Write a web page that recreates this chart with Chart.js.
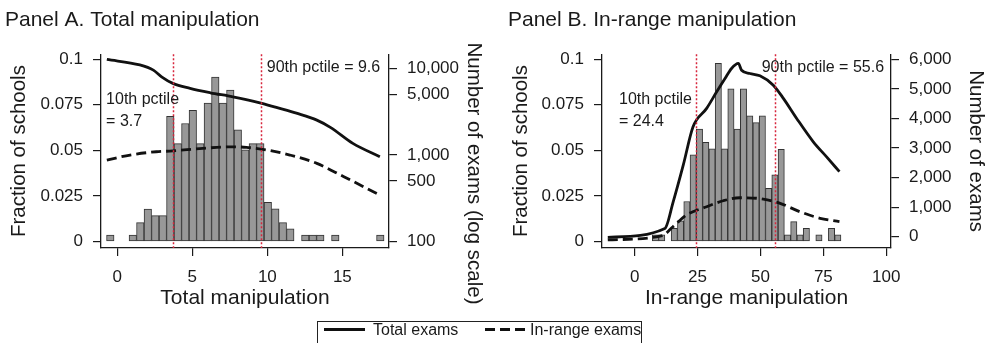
<!DOCTYPE html>
<html>
<head>
<meta charset="utf-8">
<script src="https://cdn.jsdelivr.net/npm/chart.js@4.4.0/dist/chart.umd.min.js"></script>
<style>
  html, body { margin: 0; padding: 0; background: #fff; }
  body { width: 986px; height: 343px; position: relative; overflow: hidden;
         font-family: "Liberation Sans", Arial, Helvetica, sans-serif; color: #1a1a1a; }
  #panelA { position: absolute; left: 0; top: 0; }
  #panelB { position: absolute; left: 500px; top: 0; }
  #legend { position: absolute; left: 317px; top: 321px; width: 323px; height: 30px;
            border: 1px solid #222; font-size: 16px; }
  #legend .item { position: absolute; top: -1px; line-height: 18px; white-space: nowrap; }
  #legend .sample { position: absolute; top: 6px; height: 2.6px; }
  #legend .solid { left: 6px; width: 41px; background: #111; }
  #legend .dashed { left: 167px; width: 42px;
                    background: repeating-linear-gradient(to right, #111 0 10px, transparent 10px 15px); }
</style>
</head>
<body>
<canvas id="panelA" width="493" height="322"></canvas>
<canvas id="panelB" width="486" height="322"></canvas>
<div id="legend">
  <span class="sample solid"></span><span class="item" style="left:55px">Total exams</span>
  <span class="sample dashed"></span><span class="item" style="left:212px">In-range exams</span>
</div>
<script>
const FONT = "'Liberation Sans', Arial, Helvetica, sans-serif";
const INK = "#1a1a1a";

// Panel A: histogram of total manipulation (bin centres, fraction of schools)
const binsA = [-0.47, 1.03, 1.53, 2.03, 2.53, 3.03, 3.53, 4.03, 4.53, 5.03, 5.53, 6.03, 6.53, 7.03,
  7.53, 8.03, 8.53, 9.03, 9.53, 10.03, 10.53, 11.03, 11.53, 12.53, 13.03, 13.53, 14.53, 17.53];
const fracA = [0.0035, 0.0035, 0.0103, 0.0177, 0.0142, 0.0142, 0.0686, 0.0537, 0.0647, 0.072,
  0.0537, 0.0759, 0.0902, 0.0759, 0.0831, 0.0613, 0.0503, 0.0537, 0.0537, 0.0215, 0.0179,
  0.0103, 0.0069, 0.0035, 0.0035, 0.0035, 0.0035, 0.0035];
// Panel A: number of exams (log scale)
const totalAx = [-0.7, 1.5, 2.4, 2.95, 3.7, 4.85, 6.2, 7.7, 9.5, 10.6, 12.0, 13.3, 14.2, 15.7, 17.5];
const totalAy = [12600, 10900, 9500, 7960, 6680, 5850, 5210, 4680, 3990, 3530, 3010, 2520, 2080, 1360, 953];
const inRangeAx = [-0.7, 0.85, 2.6, 3.5, 5.7, 7.5, 8.6, 10.0, 11.5, 13.3, 15.1, 17.5];
const inRangeAy = [873, 998, 1089, 1109, 1191, 1241, 1224, 1138, 998, 800, 561, 345];
const pctA = [3.7, 9.6];

// Panel B: histogram of in-range manipulation
const binsB = [8.25, 10.75, 15.75, 18.25, 20.75, 23.25, 25.75, 28.25, 30.75, 33.25, 35.75, 38.25,
  40.75, 43.25, 45.75, 48.25, 50.75, 53.25, 55.75, 58.25, 60.75, 63.25, 65.75, 68.25, 73.25, 78.25, 80.75];
const fracB = [0.0036, 0.0036, 0.0072, 0.0113, 0.0219, 0.0475, 0.0616, 0.0544, 0.0508, 0.0978,
  0.0508, 0.0837, 0.0616, 0.0837, 0.0689, 0.0652, 0.0689, 0.0292, 0.0365, 0.0506, 0.0036,
  0.0109, 0.0036, 0.0072, 0.0036, 0.0072, 0.0036];
// Panel B: number of exams (linear)
const totalBx = [-10.7, 12, 15.3, 19.3, 23.2, 28.6, 32.6, 35.9, 38.5, 41.2, 42.5, 45.8, 49.8,
  55.1, 59.1, 64.4, 71.0, 76.3, 81.4];
const totalBy = [-20, 280, 1180, 2420, 3720, 4340, 4900, 5350, 5690, 5860, 5630, 5520, 5440,
  5125, 4680, 4000, 3210, 2700, 2200];
const inRangeBx = [-10.7, 11, 15.2, 20.6, 28.6, 35.2, 41.8, 51.1, 57.8, 65.7, 73.7, 81.4];
const inRangeBy = [-110, 40, 338, 733, 1014, 1216, 1318, 1274, 1128, 845, 622, 507];
const pctB = [24.4, 55.6];

// tick labels
const fracTicks = [0, 0.025, 0.05, 0.075, 0.1];
const xTicksA = [0, 5, 10, 15];
const xTicksB = [0, 25, 50, 75, 100];
const examTicksA = [100, 500, 1000, 5000, 10000];
const examTicksB = [0, 1000, 2000, 3000, 4000, 5000, 6000];

function zipXY(xs, ys) {
  return xs.map((x, i) => ({ x, y: ys[i] }));
}
function fixTicks(values) {
  return scale => { scale.ticks = values.map(value => ({ value })); };
}
function fracLabel(v) { return String(Number(Number(v).toFixed(3))); }
function countLabel(v) { return Number(v).toLocaleString("en-US"); }

// red dotted percentile markers
const pctLines = {
  id: "pctLines",
  afterDatasetsDraw(chart, args, opts) {
    const { ctx, chartArea, scales } = chart;
    ctx.save();
    ctx.strokeStyle = "#d7263d";
    ctx.lineWidth = 1.5;
    ctx.setLineDash([2, 2]);
    (opts.values || []).forEach(v => {
      const px = Math.round(scales.x.getPixelForValue(v)) + 0.5;
      ctx.beginPath();
      ctx.moveTo(px, chartArea.top);
      ctx.lineTo(px, chartArea.bottom);
      ctx.stroke();
    });
    ctx.restore();
  }
};

// free text: percentile notes (data units) and the long side title (pixels)
const notes = {
  id: "notes",
  afterDraw(chart, args, opts) {
    const { ctx, scales } = chart;
    (opts.items || []).forEach(t => {
      ctx.save();
      ctx.font = `${t.size || 16}px ${FONT}`;
      ctx.fillStyle = INK;
      ctx.textAlign = t.align || "left";
      ctx.textBaseline = "middle";
      const px = t.pixel ? t.x : scales.x.getPixelForValue(t.x);
      const py = t.pixel ? t.y : scales.y.getPixelForValue(t.y);
      ctx.translate(px, py);
      if (t.rotate) ctx.rotate(t.rotate);
      ctx.fillText(t.text, 0, 0);
      ctx.restore();
    });
  }
};

function buildPanel(canvasId, cfg) {
  const tickFont = { family: FONT, size: 17 };
  const titleFont = { family: FONT, size: 21, weight: "normal", lineHeight: 1.2 };
  const sideFont = { family: FONT, size: 20.5, lineHeight: 1 };
  const grid = { display: true, drawOnChartArea: false, drawTicks: true, tickLength: 8,
                 color: INK, lineWidth: 1.2, offset: false };
  const border = { display: true, color: INK, width: 1.3 };

  return new Chart(document.getElementById(canvasId), {
    type: "bar",
    data: {
      datasets: [
        { type: "line", label: "Total exams", data: zipXY(cfg.totalX, cfg.totalY), yAxisID: "yR",
          borderColor: "#111", borderWidth: 2.8, pointRadius: 0, fill: false,
          cubicInterpolationMode: "monotone" },
        { type: "line", label: "In-range exams", data: zipXY(cfg.inRangeX, cfg.inRangeY), yAxisID: "yR",
          borderColor: "#111", borderWidth: 2.8, borderDash: [10, 5], pointRadius: 0, fill: false,
          cubicInterpolationMode: "monotone" },
        { type: "bar", label: "Fraction of schools", data: zipXY(cfg.bins, cfg.frac), yAxisID: "y",
          backgroundColor: "#989898", borderColor: "#333", borderWidth: 1, borderSkipped: false,
          barPercentage: 1, categoryPercentage: 1 }
      ]
    },
    options: {
      responsive: false,
      animation: false,
      events: [],
      layout: { padding: { left: cfg.padLeft, right: 0, top: 0, bottom: 0 } },
      plugins: {
        legend: { display: false },
        tooltip: { enabled: false },
        title: { display: true, text: cfg.title, align: "start", color: INK, font: titleFont,
                 padding: { top: 8, bottom: 21 } },
        pctLines: { values: cfg.pct },
        notes: { items: cfg.notes }
      },
      scales: {
        x: {
          type: "linear", min: cfg.xMin, max: cfg.xMax, offset: false,
          grid, border,
          afterBuildTicks: fixTicks(cfg.xTicks),
          afterFit: s => { s.height = 74; },
          ticks: { font: tickFont, color: INK, padding: 11, maxRotation: 0, callback: v => v },
          title: { display: true, text: cfg.xTitle, color: INK, font: titleFont, padding: { top: 0, bottom: 11 } }
        },
        y: {
          type: "linear", position: "left", min: -0.0036, max: 0.10275,
          grid, border,
          afterBuildTicks: fixTicks(fracTicks),
          afterFit: s => { s.width = cfg.leftWidth; },
          ticks: { font: tickFont, color: INK, padding: 10, callback: fracLabel },
          title: { display: true, text: "Fraction of schools", color: INK, font: sideFont,
                   padding: { top: cfg.leftTitlePad, bottom: 0 } }
        },
        yR: {
          type: cfg.rightType, position: "right", min: cfg.rMin, max: cfg.rMax,
          grid, border,
          afterBuildTicks: fixTicks(cfg.rTicks),
          afterFit: s => { s.width = cfg.rightWidth; },
          ticks: { font: tickFont, color: INK, padding: 10, callback: countLabel },
          title: { display: !!cfg.rTitle, text: cfg.rTitle || "", color: INK, font: sideFont,
                   padding: { top: cfg.rightTitlePad, bottom: 0 } }
        }
      }
    },
    plugins: [pctLines, notes]
  });
}

buildPanel("panelA", {
  title: "Panel A. Total manipulation",
  xTitle: "Total manipulation",
  bins: binsA, frac: fracA,
  totalX: totalAx, totalY: totalAy, inRangeX: inRangeAx, inRangeY: inRangeAy,
  pct: pctA,
  xMin: -1.09, xMax: 18.11, xTicks: xTicksA,
  rightType: "logarithmic", rMin: 84.6, rMax: 14500, rTicks: examTicksA,
  rTitle: null,
  padLeft: 5, leftWidth: 96, rightWidth: 104, leftTitlePad: 4.5, rightTitlePad: 9,
  notes: [
    { text: "10th pctile", x: -0.75, y: 0.0777 },
    { text: "= 3.7", x: -0.75, y: 0.0658 },
    { text: "90th pctile = 9.6", x: 9.96, y: 0.0953 },
    { text: "Number of exams (log scale)", pixel: true, x: 473.5, y: 173.5, rotate: Math.PI / 2,
      align: "center", size: 20.5 }
  ]
});

buildPanel("panelB", {
  title: "Panel B. In-range manipulation",
  xTitle: "In-range manipulation",
  bins: binsB, frac: fracB,
  totalX: totalBx, totalY: totalBy, inRangeX: inRangeBx, inRangeY: inRangeBy,
  pct: pctB,
  xMin: -13.0, xMax: 101.9, xTicks: xTicksB,
  rightType: "linear", rMin: -382, rMax: 6172, rTicks: examTicksB,
  rTitle: "Number of exams",
  padLeft: 8, leftWidth: 94, rightWidth: 95, leftTitlePad: 3.5, rightTitlePad: 0.5,
  notes: [
    { text: "10th pctile", x: -6.25, y: 0.0777 },
    { text: "= 24.4", x: -6.25, y: 0.0658 },
    { text: "90th pctile = 55.6", x: 50.5, y: 0.0953 }
  ]
});
</script>
</body>
</html>
